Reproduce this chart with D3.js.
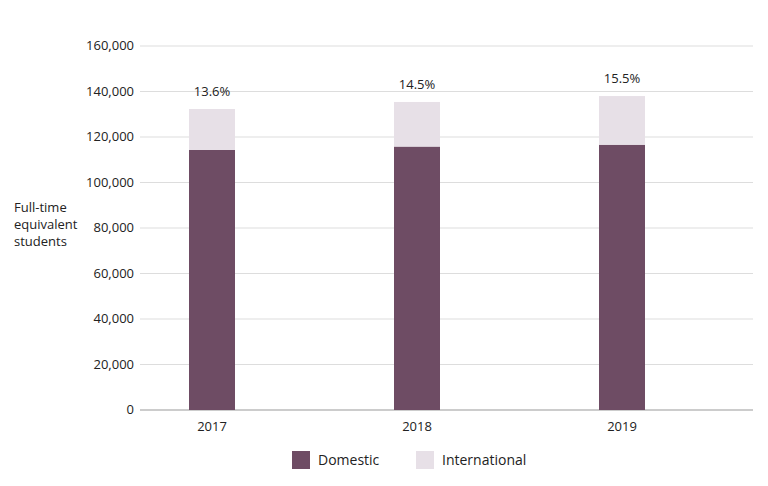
<!DOCTYPE html>
<html><head><meta charset="utf-8">
<script src="https://cdn.jsdelivr.net/npm/d3@7"></script>
<style>body{margin:0;background:#fff}text{font-family:"Open Sans",sans-serif;fill:#222}</style>
</head><body><svg id="c" width="768" height="486"></svg>
<script>
const years = ["2017","2018","2019"];
const domestic = [114300, 115800, 116600];
const international = [18000, 19600, 21400];
const pctLabels = ["13.6%","14.5%","15.5%"];
const yTicks = [0,20000,40000,60000,80000,100000,120000,140000,160000];
const colors = {Domestic:"#6e4c64", International:"#e7e0e7"};

const svg = d3.select("#c");
const x = d3.scalePoint().domain(years).range([109.5,724.5]).padding(0.5);
const y = d3.scaleLinear().domain([0,160000]).range([410,46]);
const bw = 46;

const g = svg.append("g");
g.selectAll("line.grid").data(yTicks).join("line")
 .attr("x1",140).attr("x2",753).attr("y1",d=>y(d)).attr("y2",d=>y(d))
 .attr("stroke",d=>d===0?"#999":"#ddd").attr("stroke-width",1);
g.selectAll("text.yt").data(yTicks).join("text")
 .attr("x",134).attr("y",d=>y(d)+4).attr("text-anchor","end").attr("font-size",13)
 .text(d=>d3.format(",")(d));
g.selectAll("rect.d").data(years).join("rect")
 .attr("x",d=>x(d)-bw/2).attr("width",bw)
 .attr("y",(d,i)=>y(domestic[i])).attr("height",(d,i)=>y(0)-y(domestic[i]))
 .attr("fill",colors.Domestic);
g.selectAll("rect.i").data(years).join("rect")
 .attr("x",d=>x(d)-bw/2).attr("width",bw)
 .attr("y",(d,i)=>y(domestic[i]+international[i])).attr("height",(d,i)=>y(domestic[i])-y(domestic[i]+international[i]))
 .attr("fill",colors.International);
g.selectAll("text.p").data(years).join("text")
 .attr("x",d=>x(d)).attr("y",(d,i)=>y(domestic[i]+international[i])-13)
 .attr("text-anchor","middle").attr("font-size",13).text((d,i)=>pctLabels[i]);
g.selectAll("text.xt").data(years).join("text")
 .attr("x",d=>x(d)).attr("y",431).attr("text-anchor","middle").attr("font-size",13).text(d=>d);
const yl = svg.append("text").attr("font-size",13);
["Full-time","equivalent","students"].forEach((t,i)=>yl.append("tspan").attr("x",14).attr("y",212+i*17).text(t));
const leg = [["Domestic",292],["International",416]];
leg.forEach(([k,lx])=>{
  svg.append("rect").attr("x",lx).attr("y",451).attr("width",18).attr("height",18).attr("fill",colors[k]);
  svg.append("text").attr("x",lx+26).attr("y",465).attr("font-size",14).text(k);
});
</script></body></html>
